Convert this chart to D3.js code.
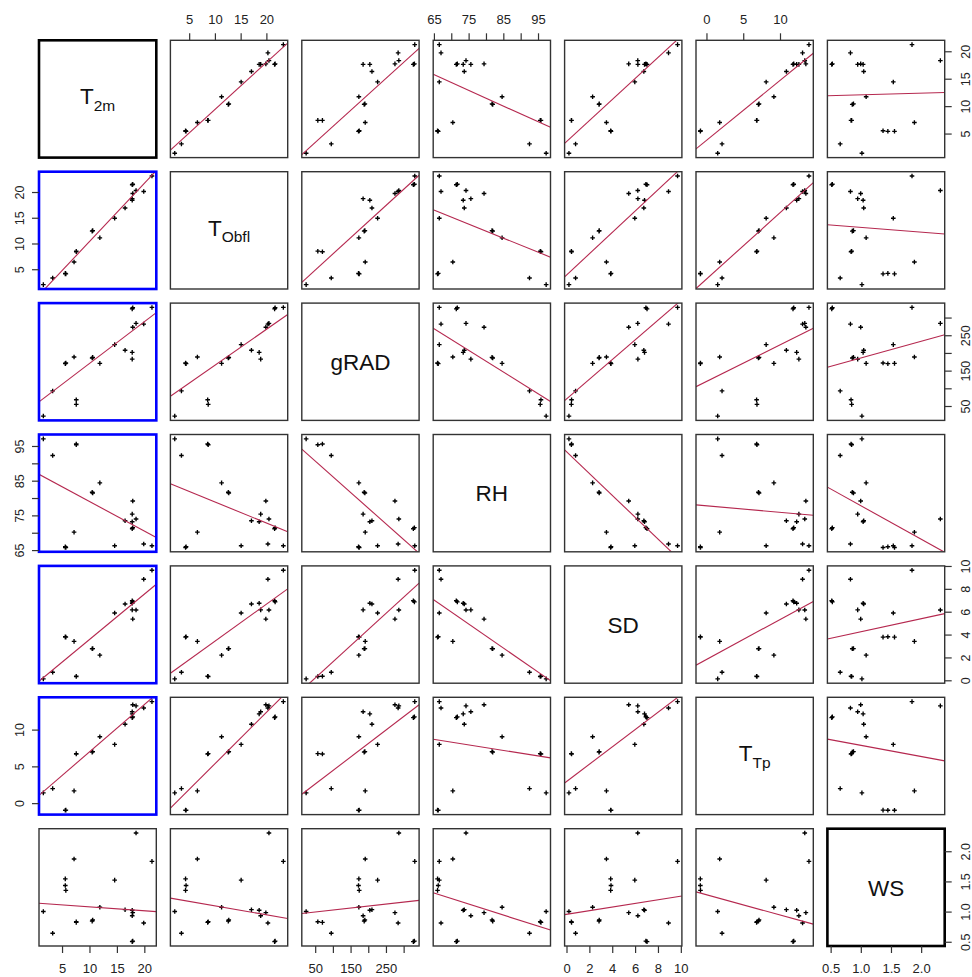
<!DOCTYPE html>
<html><head><meta charset="utf-8">
<script src="https://cdn.jsdelivr.net/npm/d3@7"></script>
<style>body{margin:0;background:#fff} text{font-family:"Liberation Sans",Arial,Helvetica,sans-serif}</style>
</head><body><svg id="c" width="972" height="977"></svg>
<script>
// ---- data (21 observations) ----
const varNames = ["T2m","TObfl","gRAD","RH","SD","TTp","WS"];
const T2m   = [1.5, 3.2, 5.5, 5.5, 5.6, 7.1, 7.5, 7.5, 10.4, 10.5, 11.8, 14.5, 16.4, 17.7, 17.8, 17.7, 17.7, 17.8, 18.4, 19.8, 21.3];
const TObfl = [2.1, 3.4, 4.2, 4.3, 4.2, 6.5, 8.5, 8.6, 12.5, 12.6, 11.2, 15.0, 17.0, 18.5, 19.8, 18.8, 21.5, 21.6, 20.4, 20.2, 23.2];
const gRAD  = [23, 94, 172, 171, 173, 190, 69, 56, 187, 189, 172, 225, 209, 203, 274, 184, 326, 329, 285, 283, 330];
const RH    = [97.2, 92.4, 65.9, 66.1, 65.9, 70.3, 95.7, 95.5, 81.8, 81.6, 84.5, 66.4, 73.6, 73.3, 79.3, 75.5, 71.3, 71.6, 74.1, 66.9, 66.4];
const SD    = [0.17, 0.75, 3.82, 3.85, 3.82, 3.45, 0.4, 0.38, 2.8, 2.82, 2.24, 5.93, 6.72, 6.78, 5.4, 6.2, 7.0, 6.9, 6.19, 8.88, 9.67];
const TTp   = [1.46, 2.05, -0.9, -0.9, -0.88, 1.73, 6.75, 6.8, 7.0, 7.08, 9.1, 8.05, 10.8, 12.2, 13.45, 12.5, 11.7, 11.8, 13.3, 13.0, 13.87];
const WS    = [1.01, 0.65, 1.55, 1.44, 1.36, 1.88, 0.83, 0.84, 0.85, 0.87, 1.08, 1.53, 1.04, 1.03, 0.99, 0.94, 0.51, 0.52, 2.31, 0.82, 1.84];

// diagonal labels: [main, subscript]
const diagLabels = [["T","2m"],["T","Obfl"],["gRAD",""],["RH",""],["SD",""],["T","Tp"],["WS",""]];

// ticks and labelled ticks per variable
const ticksT2m = [5,10,15,20],   labT2m = [5,10,15,20];
const ticksTObfl = [5,10,15,20], labTObfl = [5,10,15,20];
const ticksgRAD = [50,100,150,200,250,300], labgRAD = [50,150,250];
const ticksRH = [65,70,75,80,85,90,95], labRH = [65,75,85,95];
const ticksSD = [0,2,4,6,8,10], labSD = [0,2,4,6,8,10];
const ticksTTp = [0,5,10], labTTp = [0,5,10];
const ticksWS = [0.5,1.0,1.5,2.0], labWS = [0.5,1.0,1.5,2.0];

const dataCols = [T2m,TObfl,gRAD,RH,SD,TTp,WS];
const tickSets = [ticksT2m,ticksTObfl,ticksgRAD,ticksRH,ticksSD,ticksTTp,ticksWS];
const labSets  = [labT2m,labTObfl,labgRAD,labRH,labSD,labTTp,labWS];
const fmts = [d3.format("d"),d3.format("d"),d3.format("d"),d3.format("d"),d3.format("d"),d3.format("d"),d3.format(".1f")];

// ---- layout ----
const n = 7, left0 = 39, top0 = 40.3, step = 131.4, size = 117.3;
const lineColor = "#b5284f";

const sx = dataCols.map(v => { const [a,b] = d3.extent(v); const p=(b-a)*0.04; return d3.scaleLinear().domain([a-p,b+p]).range([0,size]); });
const sy = dataCols.map(v => { const [a,b] = d3.extent(v); const p=(b-a)*0.04; return d3.scaleLinear().domain([a-p,b+p]).range([size,0]); });

const svg = d3.select("#c");
svg.append("rect").attr("width",972).attr("height",977).attr("fill","#fff");
const defs = svg.append("defs");
defs.append("clipPath").attr("id","pclip").append("rect").attr("width",size).attr("height",size);

// weighted least squares
function wls(x,y,w){
  const sw=d3.sum(w); let mx=0,my=0;
  for(let k=0;k<x.length;k++){mx+=w[k]*x[k];my+=w[k]*y[k];}
  mx/=sw; my/=sw;
  let sxy=0,sxx=0;
  for(let k=0;k<x.length;k++){sxy+=w[k]*(x[k]-mx)*(y[k]-my);sxx+=w[k]*(x[k]-mx)**2;}
  const b=sxy/sxx; return {a:my-b*mx,b};
}
// robust line fit: Huber IRLS start, then Tukey bisquare IRLS
function irls(x,y,f,wfun,iters){
  for(let it=0;it<iters;it++){
    const r=x.map((v,k)=>y[k]-(f.a+f.b*v));
    const s=d3.median(r.map(Math.abs))/0.6745 || 1e-9;
    const w=r.map(v=>wfun(Math.abs(v/s)));
    const g=wls(x,y,w);
    const conv=Math.abs(g.a-f.a)+Math.abs(g.b-f.b)<1e-10;
    f=g; if(conv) break;
  }
  return f;
}
function robustFit(x,y){
  let f=wls(x,y,x.map(()=>1));
  f=irls(x,y,f,u=>u<=1.345?1:1.345/u,50);
  f=irls(x,y,f,u=>u<4.685?(1-(u/4.685)**2)**2:0,50);
  return f;
}

for(let j=0;j<n;j++){
  for(let i=0;i<n;i++){
    const g = svg.append("g").attr("transform",`translate(${left0+step*i},${top0+step*j})`);
    let stroke="#333", sw=1.4;
    if(i===j){
      const cx=size/2, cy=size/2;
      const [m,s]=diagLabels[i];
      const t=g.append("text").attr("x",cx).attr("text-anchor","middle").attr("fill","#111").attr("font-size",22.5);
      if(s){
        t.attr("y",cy+5.2);
        t.append("tspan").text(m);
        t.append("tspan").attr("font-size",15.5).attr("dy",6.8).text(s);
      } else {
        t.attr("y",cy+8.3).text(m);
      }
      if(i===0||i===n-1){stroke="#000"; sw=2.6;}
    } else {
      const X=dataCols[i], Y=dataCols[j];
      const fx=sx[i], fy=sy[j];
      const r=2.3;
      const pth = X.map((v,k)=>{const px=fx(v),py=fy(Y[k]);return `M${px-r},${py}h${2*r}M${px},${py-r}v${2*r}`;}).join("");
      g.append("path").attr("d",pth).attr("stroke","#000").attr("stroke-width",1.35).attr("fill","none");
      const f=robustFit(X,Y); const [d0,d1]=fx.domain();
      g.append("line").attr("clip-path","url(#pclip)")
        .attr("x1",fx(d0)).attr("y1",fy(f.a+f.b*d0)).attr("x2",fx(d1)).attr("y2",fy(f.a+f.b*d1))
        .attr("stroke",lineColor).attr("stroke-width",1.1);
      if(i===0 && j>=1 && j<=5){stroke="#0000ff"; sw=2.6;}
    }
    g.append("rect").attr("width",size).attr("height",size).attr("fill","none").attr("stroke",stroke).attr("stroke-width",sw);
  }
}

// ---- axes ----
const tl=7;
for(let i=0;i<n;i++){
  const x0=left0+step*i;
  const bottom=(i%2===0);
  const yAx = bottom ? top0+step*(n-1)+size : top0;
  const g=svg.append("g").attr("transform",`translate(${x0},${yAx})`);
  const dir = bottom?1:-1;
  g.selectAll("line").data(tickSets[i]).join("line")
    .attr("x1",d=>sx[i](d)).attr("x2",d=>sx[i](d)).attr("y1",0).attr("y2",dir*tl)
    .attr("stroke","#333").attr("stroke-width",1.2);
  g.selectAll("text").data(labSets[i]).join("text")
    .attr("x",d=>sx[i](d)).attr("y",bottom?22.5:-21).attr("dy","0.36em")
    .attr("text-anchor","middle").attr("font-size",13).attr("fill","#222").text(fmts[i]);
}
for(let j=0;j<n;j++){
  const y0=top0+step*j;
  const right=(j%2===0);
  const xAx = right ? left0+step*(n-1)+size : left0;
  const g=svg.append("g").attr("transform",`translate(${xAx},${y0})`);
  const dir = right?1:-1;
  g.selectAll("line").data(tickSets[j]).join("line")
    .attr("y1",d=>sy[j](d)).attr("y2",d=>sy[j](d)).attr("x1",0).attr("x2",dir*tl)
    .attr("stroke","#333").attr("stroke-width",1.2);
  const lx = right?20.5:-20;
  g.selectAll("text").data(labSets[j]).join("text")
    .attr("transform",d=>`translate(${lx},${sy[j](d)}) rotate(-90)`)
    .attr("dy","0.36em").attr("text-anchor","middle").attr("font-size",12.5).attr("fill","#222").text(fmts[j]);
}
</script></body></html>
